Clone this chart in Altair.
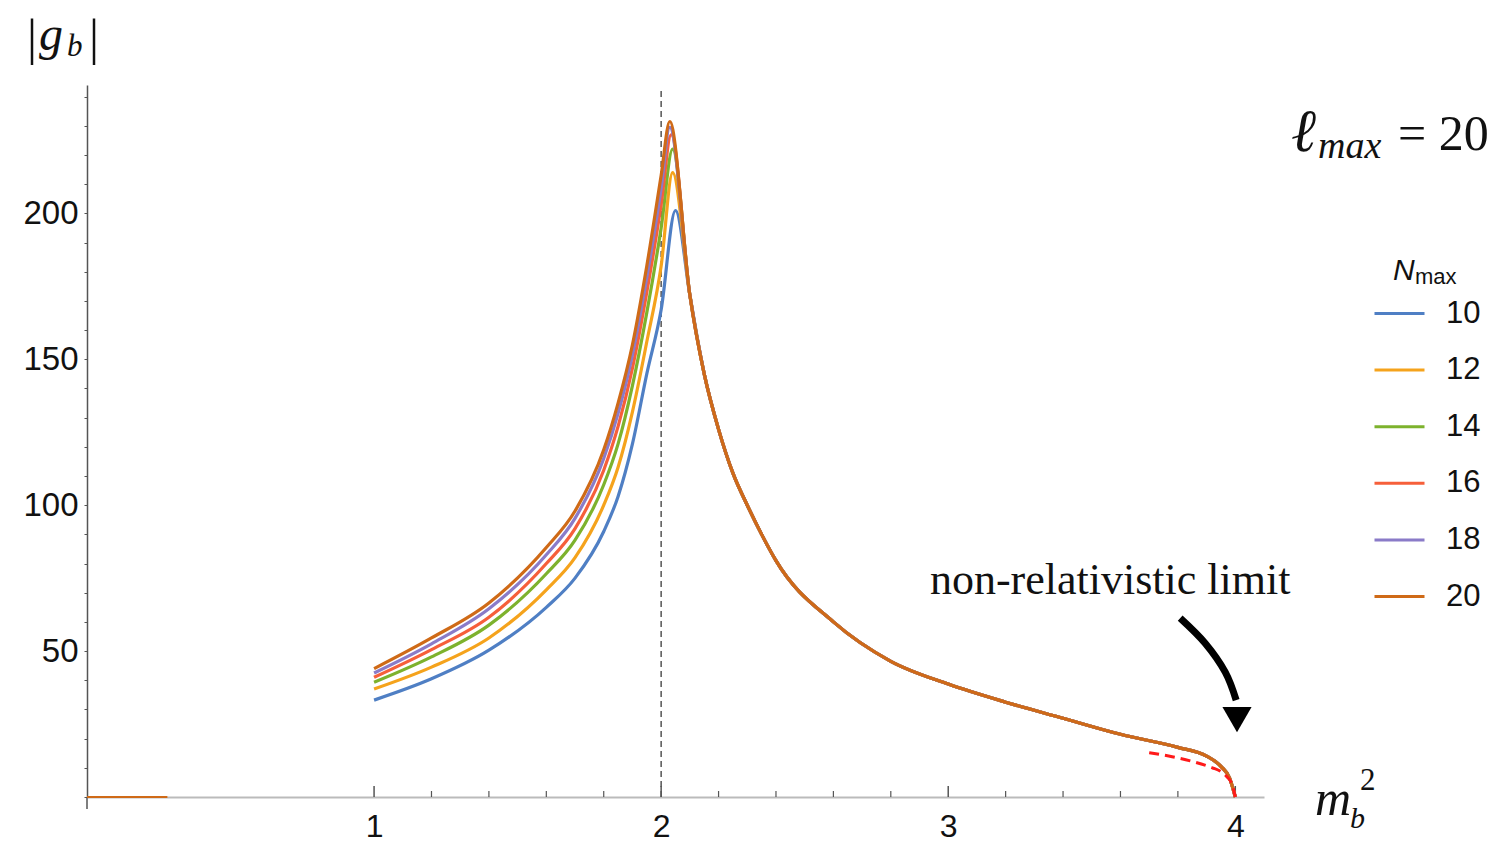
import altair as alt
import pandas as pd

# ---------------- data ----------------
series_names = ["10", "12", "14", "16", "18", "20"]
series_colors = ["#4F7FC4", "#F5A31C", "#7DB22D", "#F65F3A", "#8A7BC8", "#CF6A17"]

x_rise = [1.0, 1.2, 1.4, 1.6, 1.7, 1.8, 1.85, 1.9, 1.95, 2.0]
y_rise_10 = [33.2, 40.5, 50.3, 65.0, 75.0, 91.0, 103.0, 121.0, 145.0, 167.0]
y_rise_12 = [37.0, 44.5, 54.5, 71.0, 82.0, 100.0, 113.0, 132.0, 156.0, 182.0]
y_rise_14 = [39.3, 48.0, 58.9, 76.5, 88.0, 107.0, 121.0, 141.0, 166.0, 195.0]
y_rise_16 = [41.0, 50.5, 61.6, 80.0, 92.0, 112.0, 127.0, 147.0, 173.0, 203.0]
y_rise_18 = [42.5, 52.5, 64.5, 83.0, 95.5, 116.0, 131.5, 151.5, 178.0, 208.5]
y_rise_20 = [44.0, 54.5, 66.5, 85.5, 98.0, 119.0, 135.0, 155.0, 182.0, 213.0]
x_peak = [2.05, 2.04, 2.04, 2.035, 2.03, 2.03]
y_peak = [201.0, 214.0, 222.0, 227.0, 229.5, 231.5]
x_fall = [2.1, 2.15, 2.2, 2.25, 2.3, 2.35, 2.4, 2.6, 2.8, 3.0, 3.2, 3.4, 3.6, 3.8, 3.9, 3.95, 3.98, 4.0]
y_fall = [172.0, 145.0, 126.0, 111.0, 100.0, 90.0, 81.0, 60.0, 46.5, 38.7, 32.5, 27.0, 21.5, 17.0, 14.0, 10.5, 6.5, 0.0]

x_low_branch = [0.0, 0.28]
y_low_branch = [0.0, 0.0]

x_nonrel = [3.70, 3.78, 3.85, 3.92, 3.95, 3.97, 3.99, 4.0]
y_nonrel = [15.2, 13.8, 12.2, 10.0, 8.7, 7.0, 4.0, 0.0]

x_arrow = [3.808, 3.895, 3.965, 4.003]
y_arrow = [61.3, 52.7, 42.8, 33.2]
x_arrow_head = [4.006]
y_arrow_head = [26.5]

x_major_ticks = [1, 2, 3, 4]
x_minor_ticks = [1.2, 1.4, 1.6, 1.8, 2.2, 2.4, 2.6, 2.8, 3.2, 3.4, 3.6, 3.8]
y_tick_values = [0, 10, 20, 30, 40, 50, 60, 70, 80, 90, 100, 110, 120, 130, 140,
                 150, 160, 170, 180, 190, 200, 210, 220, 230, 240]

W, H = 1177, 712
X_DOM = [0, 4.1]
Y_DOM = [0, 244]

rise = [y_rise_10, y_rise_12, y_rise_14, y_rise_16, y_rise_18, y_rise_20]
rows = []
for i, name in enumerate(series_names):
    xs = x_rise + [x_peak[i]] + x_fall
    ys = rise[i] + [y_peak[i]] + y_fall
    for k, (a, b) in enumerate(zip(xs, ys)):
        rows.append({"N": name, "m2": a, "g": b, "k": k, "s": i})
df = pd.DataFrame(rows)

xs = alt.Scale(domain=X_DOM, nice=False, zero=False)
ys = alt.Scale(domain=Y_DOM, nice=False, zero=False)

SANS = "Liberation Sans"
SERIF = "Liberation Serif"

x_axis = alt.Axis(
    title=None, values=x_major_ticks, format="d", ticks=False,
    domainColor="#bbbbbb", domainWidth=2, labelFont=SANS, labelFontSize=32,
    labelColor="#111111", labelPadding=14, grid=False, labelOverlap=False)
y_axis = alt.Axis(
    title=None, values=y_tick_values, domainColor="#555555", domainWidth=1.5,
    tickColor="#555555", tickSize=3, tickWidth=1, labelOverlap=False,
    labelExpr="datum.value > 0 && datum.value % 50 === 0 ? datum.label : ''",
    labelFont=SANS, labelFontSize=33, labelColor="#111111", labelPadding=6, grid=False)


def X(field="m2:Q"):
    return alt.X(field, scale=xs, axis=x_axis)


def Y(field="g:Q"):
    return alt.Y(field, scale=ys, axis=y_axis)


curves = alt.Chart(df).mark_line(strokeWidth=3.2, strokeJoin="round", interpolate="monotone").encode(
    x=X(), y=Y(),
    color=alt.Color("N:N", scale=alt.Scale(domain=series_names, range=series_colors),
                    legend=alt.Legend(title=None, orient="none", legendX=1286, legendY=202,
                                      symbolType="stroke", symbolSize=2500,
                                      symbolStrokeWidth=3, labelFont=SANS,
                                      labelFontSize=31, labelColor="#111111",
                                      labelOffset=20, rowPadding=14.6)),
    order=alt.Order("k:Q"),
)

low = alt.Chart(pd.DataFrame({"m2": x_low_branch, "g": y_low_branch})).mark_line(
    color=series_colors[-1], strokeWidth=2).encode(x=X(), y=Y())

vdash = alt.Chart(pd.DataFrame({"m2": [2.0], "g0": [0.0], "g1": [242.0]})).mark_rule(
    color="#555555", strokeWidth=1.5, strokeDash=[6, 4]).encode(
    x=X(), y=Y("g0:Q"), y2="g1:Q")

major = alt.Chart(pd.DataFrame({"m2": x_major_ticks})).mark_rule(
    color="#555555", strokeWidth=1.5).encode(
    x=X(), y=alt.value(H), y2=alt.value(H - 11))
minor = alt.Chart(pd.DataFrame({"m2": x_minor_ticks})).mark_rule(
    color="#555555", strokeWidth=1.2).encode(
    x=X(), y=alt.value(H), y2=alt.value(H - 6))

# small extension of the vertical axis below the horizontal one
y_ext = alt.Chart(pd.DataFrame({"m2": [0.0]})).mark_rule(
    color="#555555", strokeWidth=1.5).encode(
    x=X(), y=alt.value(H), y2=alt.value(H + 12))

nonrel = alt.Chart(pd.DataFrame({"m2": x_nonrel, "g": y_nonrel})).mark_line(
    color="#FF1A1A", strokeWidth=3, strokeDash=[10, 6], interpolate="monotone").encode(
    x=X(), y=Y())

arrow = alt.Chart(pd.DataFrame({"m2": x_arrow, "g": y_arrow})).mark_line(
    color="black", strokeWidth=7, interpolate="cardinal").encode(x=X(), y=Y())
arrow_head = alt.Chart(pd.DataFrame({"m2": x_arrow_head, "g": y_arrow_head})).mark_point(
    shape="triangle-down", filled=True, color="black", size=850, opacity=1).encode(
    x=X(), y=Y())

nonrel_text = alt.Chart(pd.DataFrame({"m2": [3.564], "g": [69.5]})).mark_text(
    text="non-relativistic limit", font=SERIF, fontSize=44, color="#111111",
    align="center", baseline="alphabetic").encode(x=X(), y=Y())

one = pd.DataFrame({"a": [0]})


def txt(t, x, y, size, font=SERIF, style="normal", align="left", baseline="alphabetic"):
    return alt.Chart(one).mark_text(
        text=t, font=font, fontSize=size, fontStyle=style, color="#111111",
        align=align, baseline=baseline).encode(x=alt.value(x), y=alt.value(y))


labels = [
    # |g_b|
    txt("|", -55, -46, 50, align="center", baseline="middle"),
    txt("g", -48, -35, 48, style="italic"),
    txt("b", -20, -29, 31, style="italic"),
    txt("|", 7, -46, 50, align="center", baseline="middle"),
    # m_b^2
    txt("m", 1228, 730, 50, style="italic"),
    txt("b", 1263, 743, 30, style="italic"),
    txt("2", 1273, 705, 31),
    # l_max = 20
    txt("ℓ", 1204, 66, 60, font="DejaVu Serif", style="italic"),
    txt("max", 1231, 73, 38, style="italic"),
    txt("= 20", 1311, 65, 50),
    # N_max legend title
    txt("N", 1306, 195, 30, font=SANS, style="italic"),
    txt("max", 1328, 199, 22, font=SANS),
]

chart = alt.layer(vdash, major, minor, y_ext, curves, low, nonrel, arrow, arrow_head,
                  nonrel_text, *labels).properties(
    width=W, height=H,
    padding={"left": 79, "top": 77, "right": 228, "bottom": 48},
    autosize=alt.AutoSizeParams(type="none"),
).configure_view(stroke=None).configure_axis(labelOverlap=False)

chart.save("out.html", embed_options={"renderer": "svg", "actions": False})
